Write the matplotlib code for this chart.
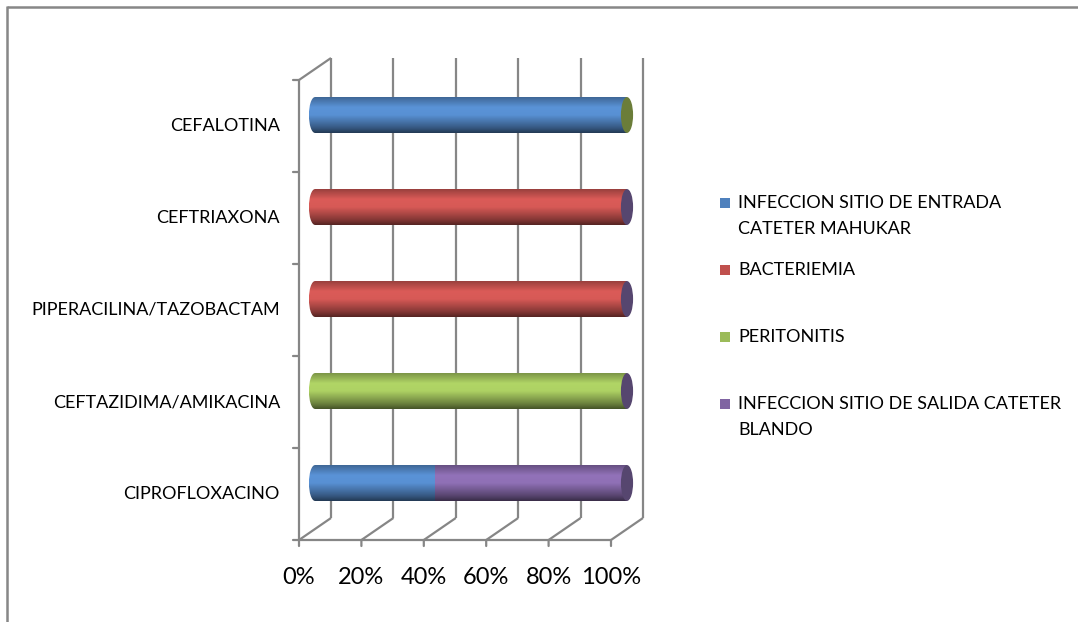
import numpy as np
import matplotlib.pyplot as plt
from matplotlib.patches import Ellipse, Rectangle
from matplotlib.colors import LinearSegmentedColormap, to_rgb
from matplotlib.transforms import offset_copy

plt.rcParams['font.family'] = ['Lato', 'DejaVu Sans']

# antibiotic vs. infection type, 100% stacked (bottom row first)
categories = ['CIPROFLOXACINO', 'CEFTAZIDIMA/AMIKACINA', 'PIPERACILINA/TAZOBACTAM',
              'CEFTRIAXONA', 'CEFALOTINA']
series_names = ['INFECCION SITIO DE ENTRADA\nCATETER MAHUKAR', 'BACTERIEMIA',
                'PERITONITIS', 'INFECCION SITIO DE SALIDA CATETER\nBLANDO']
entrada = [38.5, 0, 0, 0, 100]
bacteriemia = [0, 0, 100, 100, 0]
peritonitis = [0, 100, 0, 0, 0]
salida = [61.5, 0, 0, 0, np.nan]
xticks = [0, 20, 40, 60, 80, 100]

colors = ['#4F81BD', '#C0504D', '#9BBB59', '#8064A2']
cap_colors = ['#36577f', '#823432', '#6b7d39', '#56466f']
grid_gray = '#868686'

W, H = 1078, 622
fig = plt.figure(figsize=(W / 100, H / 100), dpi=100)

# plane through the middle of the cylinders; 0..100% spans 312 px,
# with a little room on each side for the rounded ends
px_per_unit = 312 / 100
xpad = 3
ax = fig.add_axes([(315 - xpad * px_per_unit) / W, (H - 529) / H,
                   (100 + 2 * xpad) * px_per_unit / W, 460 / H])
ax.axis('off')

# depth of the 3D box in pixels (half on each side of the bar plane)
dpx, dpy = 16, 11
front = offset_copy(ax.transData, fig=fig, x=-dpx, y=-dpy, units='dots')
back = offset_copy(ax.transData, fig=fig, x=dpx, y=dpy, units='dots')
# same depth in data units, for lines running front to back
ddx = dpx / px_per_unit
ddy = dpy * len(categories) / 460

ylo, yhi = -0.5, len(categories) - 0.5
line_kw = dict(color=grid_gray, lw=1.6, clip_on=False, solid_capstyle='butt')
tick_kw = dict(arrowstyle='-', color=grid_gray, lw=1.6, shrinkA=0, shrinkB=0)

# back wall grid and floor lines
for x in xticks:
    ax.plot([x, x], [ylo, yhi], transform=back, **line_kw)
    ax.plot([x - ddx, x + ddx], [ylo - ddy, ylo + ddy], **line_kw)
# top edge of the left wall
ax.plot([-ddx, ddx], [yhi - ddy, yhi + ddy], **line_kw)

# front axes with tick marks
ax.plot([0, 0], [ylo, yhi], transform=front, **line_kw)
ax.plot([0, 100], [ylo, ylo], transform=front, **line_kw)
for b in np.arange(ylo, yhi + 0.01, 1.0):
    ax.annotate('', xy=(0, b), xycoords=front, xytext=(-6, 0),
                textcoords='offset pixels', arrowprops=tick_kw)
for x in xticks:
    ax.annotate('', xy=(x, ylo), xycoords=front, xytext=(0, -6),
                textcoords='offset pixels', arrowprops=tick_kw)
    ax.text(x, ylo, f'{x}%', transform=offset_copy(front, fig=fig, y=-37, units='dots'),
            ha='center', va='center', fontsize=17, color='#000000')

for i, name in enumerate(categories):
    ax.text(0, i, name, transform=offset_copy(front, fig=fig, x=-19, units='dots'),
            ha='right', va='center', fontsize=13, color='#000000')


def shade_cmap(c):
    r = np.array(to_rgb(c))
    stops = [(0.0, r * 0.45), (0.15, r * 0.7), (0.5, np.minimum(r * 1.12, 1)),
             (0.72, np.minimum(r * 1.14, 1)), (0.92, r * 0.9), (1.0, r * 0.8)]
    return LinearSegmentedColormap.from_list('cyl', stops)


grad = np.linspace(0, 1, 64).reshape(-1, 1)
bar_h = 0.39
cap_w = 3.9

data = np.array([entrada, bacteriemia, peritonitis, salida], dtype=float)
for i in range(len(categories)):
    vals = data[:, i]
    left = 0.0
    y0, y1 = i - bar_h / 2, i + bar_h / 2
    first = True
    for k, v in enumerate(vals):
        if np.isnan(v) or v <= 0:
            continue
        cmap = shade_cmap(colors[k])
        if first:
            # rounded left end of the cylinder
            e = Ellipse((0, i), cap_w, bar_h, transform=ax.transData)
            ax.imshow(grad, cmap=cmap, origin='lower', aspect='auto',
                      extent=(-cap_w / 2, cap_w / 2, y0, y1), clip_path=e,
                      interpolation='bilinear', zorder=3)
            first = False
        ax.imshow(grad, cmap=cmap, origin='lower', aspect='auto',
                  extent=(left, left + v, y0, y1), interpolation='bilinear', zorder=3)
        left += v
    # end cap takes the colour of the last series present in the row
    last = max(k for k in range(len(vals)) if not np.isnan(vals[k]))
    ax.add_patch(Ellipse((left, i), cap_w, bar_h, facecolor=cap_colors[last],
                         edgecolor='none', clip_on=False, zorder=4))

ax.set_xlim(-xpad, 100 + xpad)
ax.set_ylim(ylo, yhi)

# legend and outer frame, laid out in pixel coordinates
lay = fig.add_axes([0, 0, 1, 1], zorder=-1)
lay.set_xlim(0, W)
lay.set_ylim(H, 0)
lay.axis('off')
for k, name in enumerate(series_names):
    ty = 203 + 67 * k
    lay.add_patch(Rectangle((720, ty - 5), 10, 10, facecolor=colors[k], edgecolor='none'))
    for j, line in enumerate(name.split('\n')):
        lay.text(738, ty + 26 * j, line, ha='left', va='center', fontsize=13,
                 color='#000000')
lay.plot([7, W], [7, 7], color='#878787', lw=1.8, solid_capstyle='butt')
lay.plot([7, 7], [6, H], color='#878787', lw=1.8, solid_capstyle='butt')

fig.savefig('out.png', dpi=100, facecolor='white')
